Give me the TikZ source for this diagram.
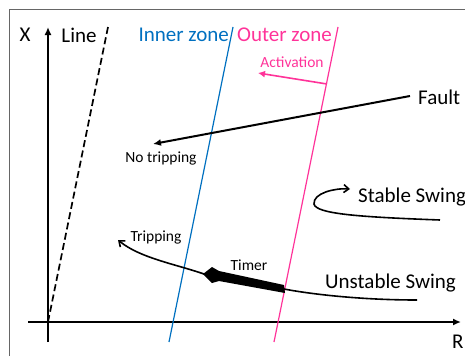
\documentclass[tikz,border=0pt]{standalone}
\usepackage{fontspec}
\setmainfont{Carlito}
\usetikzlibrary{arrows.meta}
\definecolor{innerblue}{RGB}{0,112,192}
\definecolor{outerpink}{RGB}{255,51,153}
\tikzset{
  biglabel/.style={inner sep=0pt,font=\fontsize{21}{23}\selectfont},
  smalllabel/.style={inner sep=0pt,font=\fontsize{15.5}{17}\selectfont},
  axis/.style={line width=2.4pt,-{Latex[length=8pt,width=7pt]}},
  swing/.style={line width=1.6pt},
}

\begin{document}
\begin{tikzpicture}[x=1pt,y=-1pt]
\useasboundingbox (0,0) rectangle (465,356);
\draw[gray!80!black,line width=0.8pt] (9,356) -- (9,9) -- (465,9);
% axes
\coordinate (O) at (48,322);
\coordinate (ytop) at (48,27);
\coordinate (ybot) at (48,342);
\coordinate (xleft) at (28,322);
\coordinate (xright) at (461,322);
\draw[line width=2.4pt] (ybot) -- (O);
\draw[axis] (O) -- (ytop);
\draw[line width=2.4pt] (xleft) -- (O);
\draw[axis] (O) -- (xright);
\node[biglabel] (X) at (25,35) {X};
\node[biglabel,anchor=west] (R) at (452,342) {R};
% line impedance
\coordinate (ltop) at (108,27);
\draw[line width=1.7pt,dash pattern=on 7pt off 3.5pt] (O) -- (ltop);
\node[biglabel] (line) at (79,35) {Line};
% zones
\coordinate (ibot) at (169,342);
\coordinate (itop) at (233,27);
\coordinate (obot) at (274,342);
\coordinate (otop) at (338,27);
\draw[innerblue,line width=1.2pt] (ibot) -- (itop);
\draw[outerpink,line width=1.2pt] (obot) -- (otop);
\node[biglabel,innerblue,anchor=east] (inner) at (229,35) {Inner zone};
\node[biglabel,outerpink,anchor=west] (outer) at (237,35) {Outer zone};
% activation
\coordinate (act) at (327,84);
\coordinate (actend) at (258,73);
\draw[outerpink,line width=1.6pt,-{Latex[length=7pt,width=7pt]}] (act) -- (actend);
\node[smalllabel,outerpink] (activation) at (292,62) {Activation};
% fault
\node[biglabel,anchor=west] (fault) at (418,97) {Fault};
\coordinate (nt) at (153,144);
\draw[swing,line width=2pt,-{Latex[length=8pt,width=7pt]}] (fault.west) ++(-8,-1) -- (nt);
\node[smalllabel] (notrip) at (161,158) {No tripping};
% stable swing
\coordinate (ss) at (440,220);
\coordinate (ssend) at (350,189);
\draw[swing,-{Straight Barb[length=5pt,width=8pt]}] (ss) .. controls (360,217) and (316,214) .. (314,204)
  .. controls (313,193) and (335,188) .. (ssend);
\node[biglabel,anchor=west] (stable) at (358,197) {Stable Swing};
% unstable swing
\coordinate (us) at (417,300);
\coordinate (tr) at (284,289);
\coordinate (tl) at (204,274);
\coordinate (trip) at (118,240);
\draw[swing] (us) .. controls (360,300) and (310,294) .. (tr);
\fill (203,274) -- (212,267) -- (219,271) -- (284,285) -- (285,293) -- (219,281) -- (212,283) -- cycle;
\draw[swing,-{Straight Barb[length=5pt,width=8pt]}] (tl) .. controls (175,264) and (140,258) .. (trip);
\node[smalllabel] (timer) at (249,265) {Timer};
\node[smalllabel] (tripping) at (156,237) {Tripping};
\node[biglabel,anchor=west] (unstable) at (325,283) {Unstable Swing};
\end{tikzpicture}
\end{document}
